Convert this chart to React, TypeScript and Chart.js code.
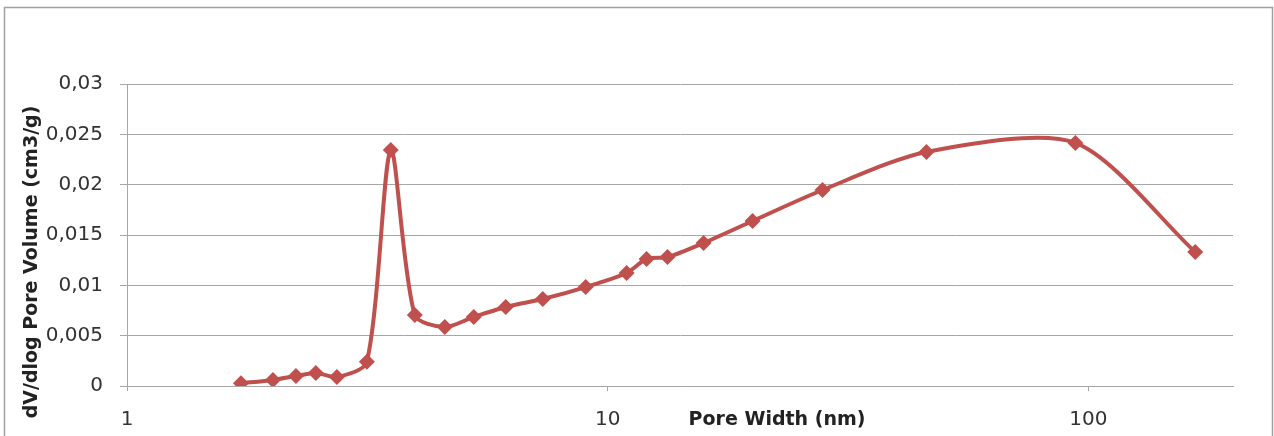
import React, { useEffect, useRef } from 'react';
import { Chart, registerables } from 'chart.js';

Chart.register(...registerables);

// Pore width (nm) and dV/dlog pore volume (cm3/g)
const poreWidth = [
  1.726, 2.012, 2.246, 2.471, 2.733, 3.155, 3.538, 3.97, 4.583, 5.265, 6.138,
  7.327, 9.0, 10.95, 12.05, 13.32, 15.83, 20.02, 27.99, 46.05, 93.98, 166.9,
];
const poreVolume = [
  0.00027, 0.0006, 0.001, 0.0013, 0.0009, 0.0024, 0.02344, 0.00705, 0.00586,
  0.00686, 0.00785, 0.00864, 0.00983, 0.01123, 0.01262, 0.01281, 0.01421,
  0.01639, 0.01947, 0.02325, 0.02414, 0.01331,
];
const xTickValues = [1, 10, 100];
const xMin = 1;
const xMax = 200;
const yMin = 0;
const yMax = 0.03;
const yStep = 0.005;
const yTitle = 'dV/dlog Pore Volume (cm3/g)';
const xTitle = 'Pore Width (nm)';

const FONT = '"DejaVu Sans", sans-serif';
const RED = '#C0504D';
const GRID = '#a6a6a6';

const decorations = {
  id: 'decorations',
  beforeDraw(chart: any) {
    const ctx = chart.ctx;
    ctx.save();
    ctx.fillStyle = '#ffffff';
    ctx.fillRect(0, 0, chart.width, chart.height);
    ctx.strokeStyle = '#a0a0a0';
    ctx.lineWidth = 1.5;
    ctx.strokeRect(4.5, 7.5, 1268, chart.height + 10);
    ctx.restore();
  },
  afterDraw(chart: any) {
    const ctx = chart.ctx;
    ctx.save();
    ctx.fillStyle = '#222222';
    ctx.font = 'bold 19px ' + FONT;
    ctx.textAlign = 'center';
    ctx.textBaseline = 'middle';
    ctx.fillText(xTitle, 777, 420);
    ctx.translate(32, 262);
    ctx.rotate(-Math.PI / 2);
    ctx.fillText(yTitle, 0, 0);
    ctx.restore();
  },
};

export default function App() {
  const canvasRef = useRef<HTMLCanvasElement | null>(null);

  useEffect(() => {
    document.body.style.margin = '0';
    const canvas = canvasRef.current;
    if (!canvas) return;
    const chart = new Chart(canvas, {
      type: 'line',
      data: {
        datasets: [
          {
            data: poreWidth.map((x, i) => ({ x, y: poreVolume[i] })),
            borderColor: RED,
            backgroundColor: RED,
            borderWidth: 4,
            pointStyle: 'rectRot',
            pointRadius: 8,
            pointBackgroundColor: RED,
            pointBorderColor: RED,
            pointBorderWidth: 0,
            tension: 0.27,
            fill: false,
          },
        ],
      },
      options: {
        responsive: false,
        animation: false,
        events: [],
        layout: { padding: { left: 0, right: 41, top: 84, bottom: 0 } },
        plugins: {
          legend: { display: false },
          tooltip: { enabled: false },
          title: { display: false },
        },
        scales: {
          x: {
            type: 'logarithmic',
            min: xMin,
            max: xMax,
            afterBuildTicks: (scale: any) => {
              scale.ticks = xTickValues.map((v) => ({ value: v }));
            },
            afterFit: (scale: any) => {
              scale.height = 50;
            },
            grid: {
              drawOnChartArea: false,
              drawTicks: true,
              tickLength: 5,
              color: GRID,
            },
            border: { display: true, color: GRID, width: 1 },
            ticks: {
              padding: 17,
              color: '#333333',
              font: { family: FONT, size: 20 },
              maxRotation: 0,
              autoSkip: false,
              callback: (v: any) => String(v),
            },
          },
          y: {
            type: 'linear',
            min: yMin,
            max: yMax,
            afterFit: (scale: any) => {
              scale.width = 127;
            },
            grid: {
              color: GRID,
              lineWidth: 1,
              drawTicks: true,
              tickLength: 7,
            },
            border: { display: true, color: GRID, width: 1 },
            ticks: {
              stepSize: yStep,
              padding: 17,
              color: '#333333',
              font: { family: FONT, size: 20 },
              callback: (v: any) =>
                String(Number(Number(v).toFixed(3))).replace('.', ','),
            },
          },
        },
      },
      plugins: [decorations],
    });
    return () => chart.destroy();
  }, []);

  return (
    <div style={{ width: 1274, height: 436, position: 'relative', background: '#fff' }}>
      <canvas
        ref={canvasRef}
        width={1274}
        height={436}
        style={{ width: 1274, height: 436, display: 'block' }}
      />
    </div>
  );
}
